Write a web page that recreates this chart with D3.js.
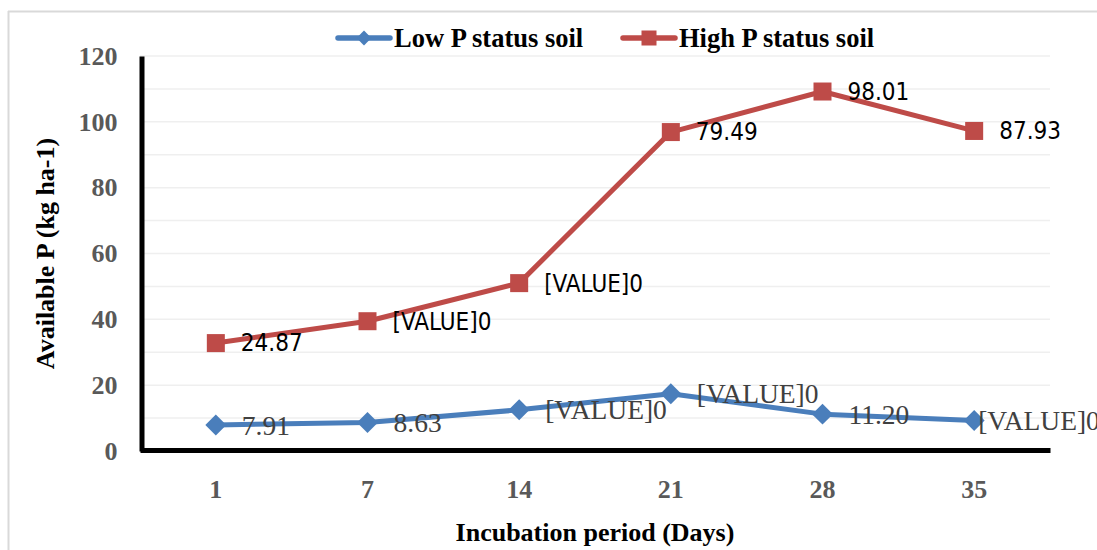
<!DOCTYPE html>
<html>
<head>
<meta charset="utf-8">
<script src="https://cdn.jsdelivr.net/npm/d3@7"></script>
<style>
  html, body { margin: 0; padding: 0; background: #fff; }
  svg { display: block; }
</style>
</head>
<body>
<svg id="chart" width="1097" height="550"></svg>
<script>
// ---- data ----
const days = ["1", "7", "14", "21", "28", "35"];
const lowP = [7.91, 8.63, 12.5, 17.4, 11.20, 9.3];
const highP = [24.87, 30.8, 38.5, 79.49, 98.01, 87.93];
const lowLabels = ["7.91", "8.63", "[VALUE]0", "[VALUE]0", "11.20", "[VALUE]0"];
const highLabels = ["24.87", "[VALUE]0", "[VALUE]0", "79.49", "98.01", "87.93"];
const yTicks = [0, 20, 40, 60, 80, 100, 120];
const gridValues = [10, 20, 30, 40, 50, 60, 70, 80, 90, 100, 110, 120];
const seriesNames = ["Low P status soil", "High P status soil"];

const blue = "#4A7EBB", red = "#BE4B48";
const serif = "'Liberation Serif', 'Times New Roman', serif";
const narrow = "'Liberation Sans Narrow', 'Arial Narrow', 'DejaVu Sans Condensed', sans-serif";

const svg = d3.select("#chart");
const W = 1097, H = 550;
const plot = { left: 140, right: 1050, top: 56, bottom: 451 };

// frame
svg.append("line").attr("x1", 8.5).attr("x2", 8.5).attr("y1", 11).attr("y2", H)
  .attr("stroke", "#d9d9d9").attr("stroke-width", 2);
svg.append("line").attr("x1", 8).attr("x2", W).attr("y1", 11.5).attr("y2", 11.5)
  .attr("stroke", "#d9d9d9").attr("stroke-width", 2);

const x = d3.scaleBand().domain(days).range([plot.left, plot.right]);
const cx = d => x(d) + x.bandwidth() / 2;
const y = d3.scaleLinear().domain([0, 120]).range([plot.bottom, plot.top]);

// stacked series
const rows = days.map((d, i) => ({ day: d, low: lowP[i], high: highP[i] }));
const stacked = d3.stack().keys(["low", "high"])(rows);

// gridlines
svg.append("g").selectAll("line").data(gridValues).join("line")
  .attr("x1", plot.left).attr("x2", plot.right)
  .attr("y1", d => y(d)).attr("y2", d => y(d))
  .attr("stroke", "#efefef").attr("stroke-width", 1.5);

// y axis
const yAxis = d3.axisLeft(y).tickValues(yTicks).tickSize(0).tickPadding(24);
const gy = svg.append("g").attr("transform", `translate(${plot.left + 1.5},0)`).call(yAxis);
gy.select(".domain").attr("stroke", "#000").attr("stroke-width", 5);
gy.selectAll("text").attr("font-family", serif).attr("font-weight", "bold")
  .attr("font-size", 26).attr("fill", "#595959");

// x axis
const xAxis = d3.axisBottom(x).tickSize(0).tickPadding(30);
const gx = svg.append("g").attr("transform", `translate(0,${plot.bottom - 1})`).call(xAxis);
gx.select(".domain").attr("stroke", "#000").attr("stroke-width", 5);
gx.selectAll("text").attr("font-family", serif).attr("font-weight", "bold")
  .attr("font-size", 26).attr("fill", "#595959");

// axis titles
svg.append("text").attr("x", (plot.left + plot.right) / 2).attr("y", 541)
  .attr("text-anchor", "middle").attr("font-family", serif).attr("font-weight", "bold")
  .attr("font-size", 26).attr("fill", "#000").text("Incubation period (Days)");
svg.append("text").attr("transform", `translate(54,${(plot.top + plot.bottom) / 2}) rotate(-90)`)
  .attr("text-anchor", "middle").attr("font-family", serif).attr("font-weight", "bold")
  .attr("font-size", 26).attr("fill", "#000").text("Available P (kg ha-1)");

// lines
const line = d3.line().x(d => cx(d.data.day)).y(d => y(d[1]));
const colors = [blue, red];
stacked.forEach((s, k) => {
  svg.append("path").datum(s).attr("d", line).attr("fill", "none")
    .attr("stroke", colors[k]).attr("stroke-width", 5).attr("stroke-linejoin", "round");
});

// markers
svg.append("g").selectAll("path").data(stacked[0]).join("path")
  .attr("d", d3.symbol().type(d3.symbolSquare).size(220)())
  .attr("transform", d => `translate(${cx(d.data.day)},${y(d[1])}) rotate(45)`)
  .attr("fill", blue);
svg.append("g").selectAll("rect").data(stacked[1]).join("rect")
  .attr("x", d => cx(d.data.day) - 9).attr("y", d => y(d[1]) - 9)
  .attr("width", 18).attr("height", 18).attr("fill", red);

// data labels
svg.append("g").selectAll("text").data(stacked[0]).join("text")
  .attr("x", (d, i) => cx(d.data.day) + (i === days.length - 1 ? 4 : 26))
  .attr("y", d => y(d[1])).attr("dy", "0.35em")
  .attr("font-family", serif).attr("font-size", 27.5).attr("fill", "#404040")
  .text((d, i) => lowLabels[i]);
svg.append("g").selectAll("text").data(stacked[1]).join("text")
  .attr("x", d => cx(d.data.day) + 25)
  .attr("y", d => y(d[1])).attr("dy", "0.35em")
  .attr("font-family", narrow).attr("font-size", 24).attr("fill", "#000")
  .text((d, i) => highLabels[i]);

// legend
const leg = [{ x: 338, tx: 394, c: blue, m: "diamond" }, { x: 623, tx: 679, c: red, m: "square" }];
leg.forEach((l, i) => {
  const g = svg.append("g");
  g.append("line").attr("x1", l.x).attr("x2", l.x + 52).attr("y1", 38).attr("y2", 38)
    .attr("stroke", l.c).attr("stroke-width", 5.5).attr("stroke-linecap", "round");
  if (l.m === "diamond") {
    g.append("path").attr("d", d3.symbol().type(d3.symbolSquare).size(110)())
      .attr("transform", `translate(${l.x + 26},38) rotate(45)`).attr("fill", l.c);
  } else {
    g.append("rect").attr("x", l.x + 26 - 7.5).attr("y", 38 - 7.5).attr("width", 15).attr("height", 15)
      .attr("fill", l.c);
  }
  g.append("text").attr("x", l.tx).attr("y", 47).attr("font-family", serif).attr("font-weight", "bold")
    .attr("font-size", 26.5).attr("fill", "#000").text(seriesNames[i]);
});
</script>
</body>
</html>
